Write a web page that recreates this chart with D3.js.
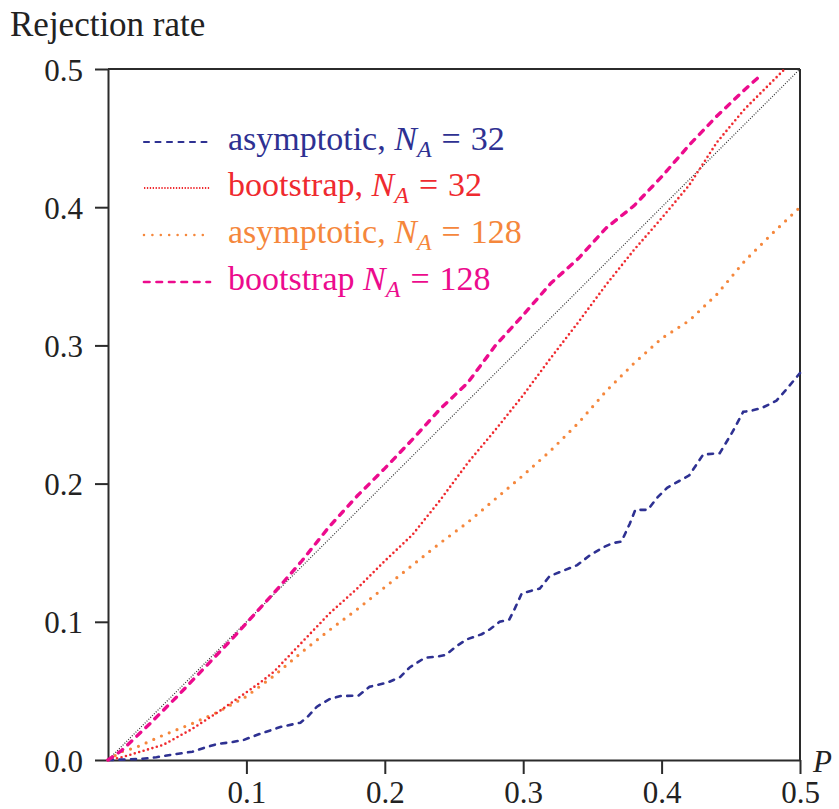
<!DOCTYPE html>
<html>
<head>
<meta charset="utf-8">
<script src="https://cdn.jsdelivr.net/npm/d3@7"></script>
<style>
  body { margin: 0; background: #fff; }
  text { font-family: "Liberation Serif", "Times New Roman", serif; }
</style>
</head>
<body>
<div id="graph"></div>
<script>
// series
var asym32P = [0, 0.01, 0.023, 0.035, 0.047, 0.061, 0.07, 0.079, 0.09, 0.098, 0.11, 0.125, 0.139, 0.144, 0.151, 0.16, 0.168, 0.181, 0.189, 0.202, 0.211, 0.218, 0.229, 0.238, 0.244, 0.252, 0.259, 0.27, 0.276, 0.283, 0.29, 0.294, 0.299, 0.306, 0.312, 0.319, 0.329, 0.339, 0.348, 0.358, 0.365, 0.371, 0.377, 0.381, 0.39, 0.397, 0.404, 0.42, 0.43, 0.442, 0.451, 0.459, 0.464, 0.473, 0.483, 0.49, 0.5];
var asym32R = [0, 0.0003, 0.0007, 0.002, 0.004, 0.006, 0.009, 0.0116, 0.013, 0.0145, 0.019, 0.024, 0.027, 0.031, 0.0386, 0.044, 0.0463, 0.0466, 0.053, 0.056, 0.06, 0.067, 0.074, 0.0748, 0.076, 0.0825, 0.0872, 0.091, 0.0946, 0.1, 0.1017, 0.1097, 0.1206, 0.1225, 0.124, 0.133, 0.137, 0.141, 0.148, 0.154, 0.157, 0.158, 0.171, 0.181, 0.181, 0.19, 0.197, 0.206, 0.221, 0.222, 0.237, 0.252, 0.2525, 0.255, 0.26, 0.268, 0.28];

var boot32P = [0, 0.01, 0.02, 0.04, 0.06, 0.08, 0.1, 0.11, 0.12, 0.14, 0.16, 0.18, 0.2, 0.22, 0.24, 0.26, 0.28, 0.3, 0.32, 0.34, 0.36, 0.38, 0.4, 0.42, 0.44, 0.46, 0.48, 0.489];
var boot32R = [0, 0.002, 0.005, 0.011, 0.022, 0.035, 0.049, 0.056, 0.064, 0.085, 0.106, 0.124, 0.144, 0.163, 0.188, 0.215, 0.239, 0.264, 0.291, 0.317, 0.344, 0.369, 0.392, 0.416, 0.447, 0.471, 0.491, 0.5];

var asym128P = [0, 0.01, 0.02, 0.04, 0.06, 0.08, 0.1, 0.12, 0.14, 0.16, 0.18, 0.2, 0.22, 0.24, 0.26, 0.28, 0.3, 0.32, 0.34, 0.36, 0.38, 0.4, 0.42, 0.44, 0.46, 0.48, 0.5];
var asym128R = [0, 0.006, 0.009, 0.018, 0.026, 0.035, 0.046, 0.061, 0.078, 0.094, 0.109, 0.125, 0.141, 0.157, 0.172, 0.189, 0.206, 0.224, 0.244, 0.267, 0.287, 0.305, 0.318, 0.337, 0.361, 0.381, 0.4];

var boot128P = [0, 0.01, 0.03, 0.05, 0.07, 0.09, 0.1, 0.12, 0.14, 0.16, 0.18, 0.2, 0.22, 0.24, 0.26, 0.28, 0.3, 0.32, 0.34, 0.36, 0.38, 0.4, 0.42, 0.44, 0.46, 0.47];
var boot128R = [0, 0.007, 0.026, 0.046, 0.067, 0.088, 0.099, 0.121, 0.144, 0.169, 0.191, 0.211, 0.232, 0.254, 0.273, 0.3, 0.322, 0.345, 0.363, 0.385, 0.401, 0.422, 0.445, 0.466, 0.485, 0.494];

var diagP = [0, 0.5];
var diagR = [0, 0.5];

var xTicks = [0.1, 0.2, 0.3, 0.4, 0.5];
var yTicks = [0.0, 0.1, 0.2, 0.3, 0.4, 0.5];

var legendLabels = ["asymptotic,", "bootstrap,", "asymptotic,", "bootstrap"];
var legendN = ["32", "32", "128", "128"];

var W = 839, H = 809;

var svg = d3.select("#graph").append("svg")
	.attr("width", W)
	.attr("height", H);

var x = d3.scaleLinear().domain([0, 0.5]).range([108, 800]);
var y = d3.scaleLinear().domain([0, 0.5]).range([760, 69]);

var axisColor = "#2b2b2b";

// axes
var gy = svg.append("g")
	.attr("transform", "translate(108,0)")
	.call(d3.axisLeft(y).tickValues(yTicks).tickSize(13).tickSizeOuter(0).tickPadding(12)
		.tickFormat(d3.format(".1f")));

var gx = svg.append("g")
	.attr("transform", "translate(0,760)")
	.call(d3.axisBottom(x).tickValues(xTicks).tickSize(14).tickSizeOuter(0).tickPadding(7)
		.tickFormat(d3.format(".1f")));

[gy, gx].forEach(function(g) {
	g.selectAll("path.domain").attr("stroke", axisColor).attr("stroke-width", 2);
	g.selectAll(".tick line").attr("stroke", axisColor).attr("stroke-width", 2);
	g.selectAll(".tick text").attr("fill", "#222").style("font-size", "31px")
		.style("font-family", "'Liberation Serif', serif");
});
gy.selectAll(".tick text").attr("dy", "0.36em");

// top and right frame
svg.append("line").attr("x1", x(0)).attr("x2", x(0.5)).attr("y1", y(0.5)).attr("y2", y(0.5))
	.attr("stroke", axisColor).attr("stroke-width", 2);
svg.append("line").attr("x1", x(0.5)).attr("x2", x(0.5)).attr("y1", y(0.5)).attr("y2", y(0))
	.attr("stroke", axisColor).attr("stroke-width", 2);

svg.append("text")
	.attr("x", 10).attr("y", 36)
	.style("font-size", "35px").attr("fill", "#222")
	.text("Rejection rate");

svg.append("text")
	.attr("x", 813).attr("y", 772)
	.style("font-size", "31px").style("font-style", "italic").attr("fill", "#222")
	.text("P");

// series
var series = [
	{p: diagP, r: diagR, color: "#333333", width: 1.2, dash: "1,1.6", cap: "butt"},
	{p: asym128P, r: asym128R, color: "#f5873c", width: 3.2, dash: "0,8.4", cap: "round"},
	{p: boot32P, r: boot32R, color: "#ef2a2f", width: 2.6, dash: "0,4.6", cap: "round"},
	{p: asym32P, r: asym32R, color: "#2e3192", width: 2.6, dash: "5,6.5", cap: "round"},
	{p: boot128P, r: boot128R, color: "#ec0b8d", width: 3.4, dash: "5.5,7", cap: "round"}
];

var line = d3.line()
	.x(function(d) { return x(d[0]); })
	.y(function(d) { return y(d[1]); });

series.forEach(function(s) {
	var pts = s.p.map(function(p, i) { return [p, s.r[i]]; });
	svg.append("path")
		.datum(pts)
		.attr("fill", "none")
		.attr("stroke", s.color)
		.attr("stroke-width", s.width)
		.attr("stroke-dasharray", s.dash)
		.attr("stroke-linecap", s.cap)
		.attr("d", line);
});

// legend
var legendSeries = [series[3], series[2], series[1], series[4]];
var rowY = [142, 188, 235, 282];

legendSeries.forEach(function(s, i) {
	svg.append("line")
		.attr("x1", 144).attr("x2", 210)
		.attr("y1", rowY[i]).attr("y2", rowY[i])
		.attr("stroke", s.color)
		.attr("stroke-width", i == 1 ? 2 : s.width * 0.8)
		.attr("stroke-dasharray", i == 1 ? "1.3,1.6" : s.dash)
		.attr("stroke-linecap", i == 1 ? "butt" : s.cap);

	var t = svg.append("text")
		.attr("x", 228).attr("y", rowY[i] + 8)
		.attr("fill", s.color)
		.style("font-size", "34px");
	t.append("tspan").text(legendLabels[i] + " ");
	t.append("tspan").style("font-style", "italic").text("N");
	t.append("tspan").style("font-style", "italic").style("font-size", "24px")
		.attr("dy", 7).text("A");
	t.append("tspan").attr("dy", -7).attr("dx", 10).text("=");
	t.append("tspan").attr("dx", 10).text(legendN[i]);
});
</script>
</body>
</html>
